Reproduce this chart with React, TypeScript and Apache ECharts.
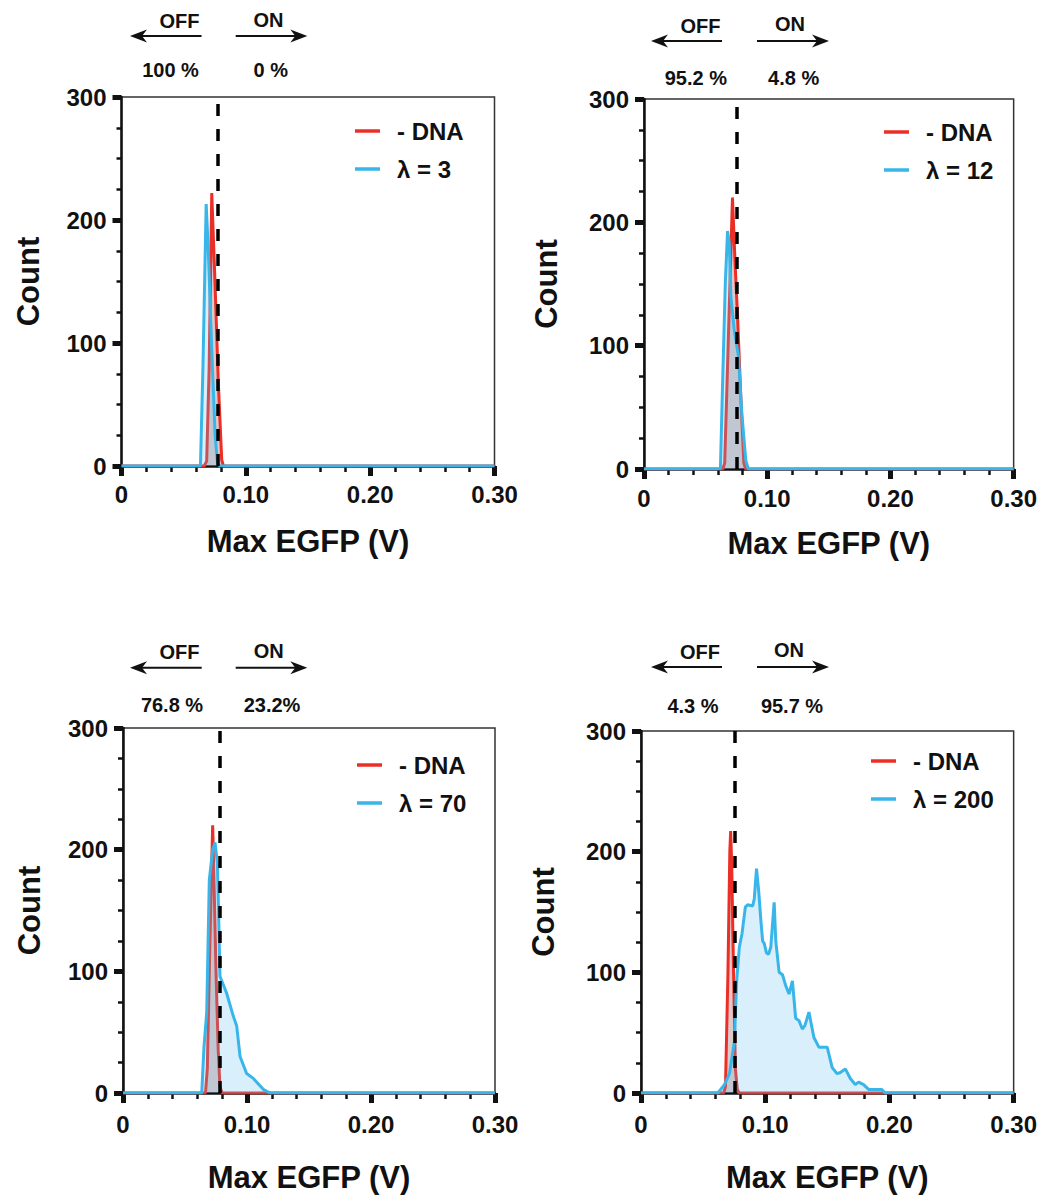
import React, { useEffect, useRef } from 'react';
import * as echarts from 'echarts';

const FONT = '"Liberation Sans", Arial, Helvetica, sans-serif';
const RED = '#ec2f26';
const BLUE = '#38b6ea';

// ---- data ----
const dnaName = '- DNA';
const lambdaNames = ['λ = 3', 'λ = 12', 'λ = 70', 'λ = 200'];
const offPct = ['100 %', '95.2 %', '76.8 %', '4.3 %'];
const onPct = ['0 %', '4.8 %', '23.2%', '95.7 %'];
const thresholds = [0.0777, 0.0756, 0.0777, 0.0755];
const xTickLabels = ['0', '0.10', '0.20', '0.30'];

const dna1: number[][] = [[0, 0], [0.0665, 0], [0.0685, 4], [0.0705, 80], [0.0726, 222], [0.0752, 149], [0.0779, 67], [0.0806, 5], [0.082, 0], [0.3, 0]];
const lam3: number[][] = [[0, 0], [0.0635, 0], [0.0655, 80], [0.0681, 213], [0.0698, 176], [0.0726, 94], [0.0752, 27], [0.0771, 3], [0.079, 0], [0.3, 0]];

const dna2: number[][] = [[0, 0], [0.064, 0], [0.0655, 5], [0.068, 90], [0.0718, 220], [0.0738, 170], [0.0759, 124], [0.0785, 60], [0.081, 5], [0.0825, 0], [0.3, 0]];
const lam12: number[][] = [[0, 0], [0.062, 0], [0.0638, 70], [0.066, 151], [0.0678, 193], [0.0692, 183], [0.0705, 140], [0.0732, 113], [0.0767, 91], [0.0794, 45], [0.0826, 7], [0.0847, 0], [0.3, 0]];

const dna3: number[][] = [[0, 0], [0.0665, 0], [0.068, 20], [0.07, 120], [0.0723, 220], [0.0735, 170], [0.075, 100], [0.0768, 35], [0.0782, 5], [0.08, 0], [0.3, 0]];
const lam70: number[][] = [[0, 0], [0.0635, 0], [0.0653, 38], [0.0675, 66], [0.0696, 175], [0.0723, 200], [0.0742, 206], [0.0761, 189], [0.0771, 148], [0.0782, 96], [0.0836, 82], [0.089, 63], [0.0917, 55], [0.0944, 30], [0.0997, 16], [0.1051, 12], [0.1131, 3], [0.1185, 0], [0.3, 0]];

const dna4: number[][] = [[0, 0], [0.0665, 0], [0.068, 5], [0.07, 100], [0.0715, 200], [0.0722, 217], [0.073, 190], [0.0745, 100], [0.076, 20], [0.0775, 3], [0.079, 0], [0.3, 0]];
const lam200: number[][] = [[0, 0], [0.0619, 0], [0.0672, 7], [0.0712, 16], [0.0752, 43], [0.077, 93], [0.0792, 121], [0.0813, 132], [0.084, 154], [0.0859, 156], [0.0899, 155], [0.0912, 161], [0.093, 186], [0.0947, 168], [0.0965, 143], [0.0979, 126], [0.0992, 124], [0.101, 116], [0.1027, 115], [0.1045, 121], [0.1072, 158], [0.1085, 126], [0.1112, 100], [0.1139, 98], [0.1165, 89], [0.1192, 82], [0.1219, 93], [0.1245, 62], [0.1272, 60], [0.1299, 53], [0.132, 56], [0.1352, 67], [0.1392, 46], [0.1432, 38], [0.1499, 38], [0.1539, 21], [0.1579, 16], [0.1605, 17], [0.1645, 20], [0.1685, 12], [0.1725, 7], [0.1752, 9], [0.1792, 7], [0.1832, 3], [0.1939, 3], [0.1965, 0], [0.3, 0]];

const dnaSeries = [dna1, dna2, dna3, dna4];
const lambdaSeries = [lam3, lam12, lam70, lam200];

// ---- layout ----
const grids = [
  { left: 121.5, top: 97, width: 373, height: 369 },
  { left: 644, top: 99, width: 373, height: 370 },
  { left: 123, top: 728, width: 372, height: 365 },
  { left: 641, top: 731, width: 375, height: 362 },
];
const xNameGap = [60, 59, 69, 69];
const xLabelMargin = [16, 17, 19, 19];
const yNameGap = [78, 82, 78, 82];
const legendPos = [
  { left: 350, top: 114 },
  { left: 879, top: 115 },
  { left: 352, top: 748 },
  { left: 866, top: 744 },
];
const annot = [
  { offX: 179.5, offY: 20.5, onX: 268.5, onY: 20, arrowY: 36, lTip: 130, lEnd: 201.5, rStart: 235.7, rTip: 307.3, pctY: 70, offPX: 170.5, onPX: 270.8 },
  { offX: 700.5, offY: 26, onX: 790, onY: 24, arrowY: 41, lTip: 651, lEnd: 722, rStart: 757, rTip: 829, pctY: 77.7, offPX: 695.8, onPX: 793.7 },
  { offX: 179.5, offY: 652.3, onX: 268.7, onY: 651, arrowY: 667.7, lTip: 130, lEnd: 201.7, rStart: 235.7, rTip: 307.3, pctY: 705, offPX: 172, onPX: 272 },
  { offX: 700, offY: 652, onX: 789, onY: 650, arrowY: 667, lTip: 651, lEnd: 722, rStart: 757, rTip: 829, pctY: 706, offPX: 693, onPX: 792 },
];

function textEl(text: string, x: number, y: number, size: number) {
  return {
    type: 'text', x, y,
    style: { text, fill: '#111', fontSize: size, fontWeight: 'bold', fontFamily: FONT, align: 'center', verticalAlign: 'middle' },
  };
}

function buildOption() {
  const grid: any[] = [];
  const xAxis: any[] = [];
  const yAxis: any[] = [];
  const series: any[] = [];
  const legend: any[] = [];
  const graphic: any[] = [];

  for (let i = 0; i < 4; i++) {
    grid.push({ ...grids[i], show: true, borderColor: '#333', borderWidth: 1.5, backgroundColor: 'transparent' });
    xAxis.push({
      type: 'value', gridIndex: i, min: 0, max: 0.3, interval: 0.1,
      axisLine: { show: true, onZero: false, lineStyle: { color: '#111', width: 2.5 } },
      axisTick: { show: true, inside: false, length: 10, lineStyle: { color: '#111', width: 5 } },
      minorTick: { show: true, splitNumber: 5, length: 6, lineStyle: { color: '#111', width: 2.5 } },
      splitLine: { show: false },
      axisLabel: {
        margin: xLabelMargin[i], color: '#111', fontSize: 24, fontWeight: 'bold', fontFamily: FONT,
        formatter: (v: number) => xTickLabels[Math.round(v / 0.1)] ?? '',
      },
      name: 'Max EGFP (V)', nameLocation: 'middle', nameGap: xNameGap[i],
      nameTextStyle: { color: '#111', fontSize: 31, fontWeight: 'bold', fontFamily: FONT },
    });
    yAxis.push({
      type: 'value', gridIndex: i, min: 0, max: 300, interval: 100,
      axisLine: { show: true, onZero: false, lineStyle: { color: '#111', width: 2.5 } },
      axisTick: { show: true, inside: false, length: 9, lineStyle: { color: '#111', width: 5 } },
      minorTick: { show: true, splitNumber: 4, length: 5, lineStyle: { color: '#111', width: 2.5 } },
      splitLine: { show: false },
      axisLabel: { margin: 15, color: '#111', fontSize: 24, fontWeight: 'bold', fontFamily: FONT },
      name: 'Count', nameLocation: 'middle', nameGap: yNameGap[i], nameRotate: 90,
      nameTextStyle: { color: '#111', fontSize: 31, fontWeight: 'bold', fontFamily: FONT },
    });
    series.push({
      type: 'line', name: dnaName, xAxisIndex: i, yAxisIndex: i, data: dnaSeries[i],
      symbol: 'none', color: RED, z: 2,
      lineStyle: { color: RED, width: 3 },
      areaStyle: { color: 'rgba(150,85,90,0.45)' },
    });
    series.push({
      type: 'line', name: lambdaNames[i], xAxisIndex: i, yAxisIndex: i, data: lambdaSeries[i],
      symbol: 'none', color: BLUE, z: 3,
      lineStyle: { color: BLUE, width: 3 },
      areaStyle: { color: 'rgba(100,190,240,0.35)' },
      markLine: {
        silent: true, symbol: ['none', 'none'], label: { show: false }, precision: 5,
        lineStyle: { color: '#000', type: [12, 13], width: 3.5 },
        data: [{ xAxis: thresholds[i] }],
      },
    });
    legend.push({
      ...legendPos[i], orient: 'vertical', align: 'left', itemGap: 14,
      icon: 'rect', itemWidth: 25, itemHeight: 3.5,
      data: [dnaName, lambdaNames[i]],
      textStyle: { color: '#111', fontSize: 24, fontWeight: 'bold', fontFamily: FONT, padding: [0, 0, 0, 12] },
    });

    const a = annot[i];
    graphic.push(textEl('OFF', a.offX, a.offY, 20));
    graphic.push(textEl('ON', a.onX, a.onY, 20));
    graphic.push(textEl(offPct[i], a.offPX, a.pctY, 20));
    graphic.push(textEl(onPct[i], a.onPX, a.pctY, 20));
    graphic.push({ type: 'line', shape: { x1: a.lTip + 10, y1: a.arrowY, x2: a.lEnd, y2: a.arrowY }, style: { stroke: '#111', lineWidth: 2 } });
    graphic.push({ type: 'polygon', shape: { points: [[a.lTip, a.arrowY], [a.lTip + 17, a.arrowY - 6.5], [a.lTip + 12, a.arrowY], [a.lTip + 17, a.arrowY + 6.5]] }, style: { fill: '#111' } });
    graphic.push({ type: 'line', shape: { x1: a.rStart, y1: a.arrowY, x2: a.rTip - 10, y2: a.arrowY }, style: { stroke: '#111', lineWidth: 2 } });
    graphic.push({ type: 'polygon', shape: { points: [[a.rTip, a.arrowY], [a.rTip - 17, a.arrowY - 6.5], [a.rTip - 12, a.arrowY], [a.rTip - 17, a.arrowY + 6.5]] }, style: { fill: '#111' } });
  }

  return {
    animation: false,
    backgroundColor: '#fff',
    textStyle: { fontFamily: FONT },
    grid, xAxis, yAxis, series, legend, graphic,
  };
}

export default function App() {
  const ref = useRef<HTMLDivElement>(null);
  useEffect(() => {
    if (!ref.current) return;
    const chart = echarts.init(ref.current, undefined, { renderer: 'svg' });
    chart.setOption(buildOption() as any);
    return () => chart.dispose();
  }, []);
  return <div ref={ref} style={{ position: 'absolute', left: 0, top: 0, width: 1040, height: 1198 }} />;
}
